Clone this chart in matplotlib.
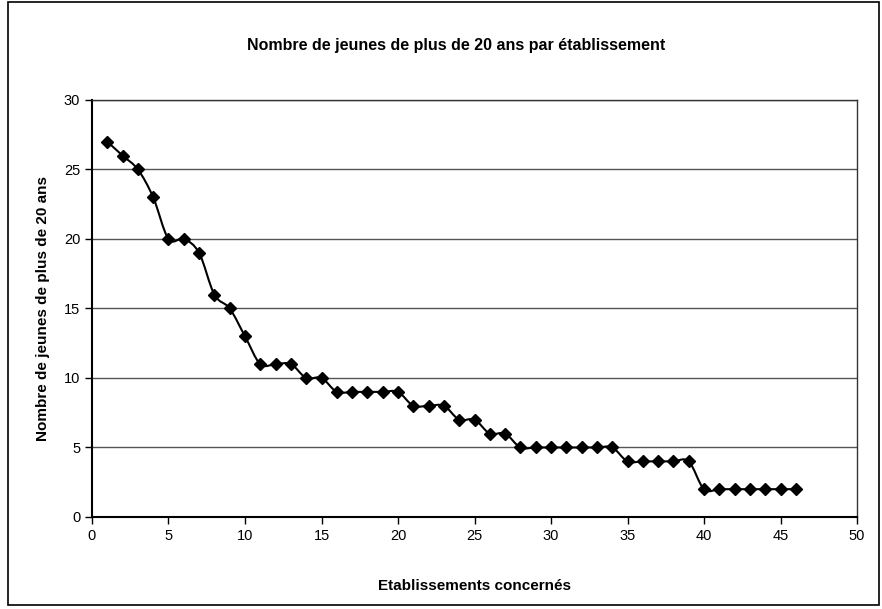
import matplotlib.pyplot as plt
from matplotlib.path import Path
from matplotlib.patches import PathPatch, Rectangle

plt.rcParams['font.family'] = ['Liberation Sans', 'DejaVu Sans']

etablissements = list(range(1, 47))
jeunes = [27, 26, 25, 23, 20, 20, 19, 16, 15, 13,
          11, 11, 11, 10, 10, 9, 9, 9, 9, 9,
          8, 8, 8, 7, 7, 6, 6, 5, 5, 5,
          5, 5, 5, 5, 4, 4, 4, 4, 4, 2,
          2, 2, 2, 2, 2, 2]

fig = plt.figure(figsize=(8.82, 6.09), dpi=100)
ax = fig.add_axes([0.1043, 0.1511, 0.8674, 0.6847])

# courbe lissée (style Excel) : segments de Bézier à partir des points
verts = [(etablissements[0], jeunes[0])]
codes = [Path.MOVETO]
n = len(etablissements)
t = 0.5 / 3
for i in range(n - 1):
    x0, y0 = etablissements[max(i - 1, 0)], jeunes[max(i - 1, 0)]
    x1, y1 = etablissements[i], jeunes[i]
    x2, y2 = etablissements[i + 1], jeunes[i + 1]
    x3, y3 = etablissements[min(i + 2, n - 1)], jeunes[min(i + 2, n - 1)]
    c1 = (x1 + (x2 - x0) * t, y1 + (y2 - y0) * t)
    c2 = (x2 - (x3 - x1) * t, y2 - (y3 - y1) * t)
    verts += [c1, c2, (x2, y2)]
    codes += [Path.CURVE4] * 3
ax.add_patch(PathPatch(Path(verts, codes), facecolor='none',
                       edgecolor='black', lw=1.5, zorder=3))
ax.plot(etablissements, jeunes, ls='none', marker='D', ms=6,
        color='black', zorder=4)

ax.set_xlim(0, 50)
ax.set_ylim(0, 30)
ax.set_xticks(range(0, 51, 5))
ax.set_yticks(range(0, 31, 5))
ax.grid(axis='y', color='#555555', lw=1)
ax.set_axisbelow(True)
for s in ax.spines.values():
    s.set_color('#333333')
    s.set_linewidth(1)
ax.spines['left'].set_color('black')
ax.spines['left'].set_linewidth(1.5)
ax.spines['bottom'].set_color('black')
ax.spines['bottom'].set_linewidth(1.5)
ax.tick_params(direction='out', length=5, width=1, labelsize=10.5,
               colors='black')

ax.set_xlabel('Etablissements concernés', fontsize=11, fontweight='bold',
              labelpad=26)
ax.set_ylabel('Nombre de jeunes de plus de 20 ans', fontsize=11,
              fontweight='bold', labelpad=10)
fig.text(0.517, 0.926, 'Nombre de jeunes de plus de 20 ans par établissement',
         ha='center', va='center', fontsize=11.5, fontweight='bold')

fig.patches.append(Rectangle((0.009, 0.006), 0.988, 0.99, fill=False,
                             edgecolor='black', lw=1.2,
                             transform=fig.transFigure, figure=fig))

fig.savefig('out.png', dpi=100)
